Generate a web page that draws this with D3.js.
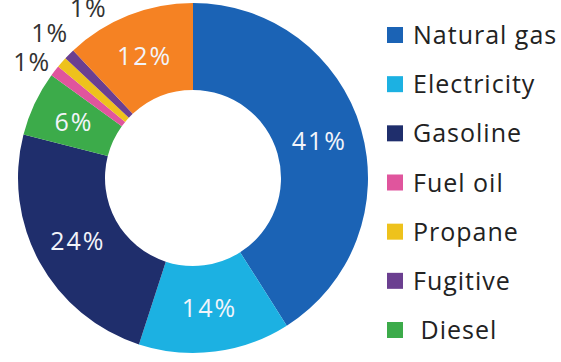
<!DOCTYPE html>
<html>
<head>
<meta charset="utf-8">
<script src="https://cdn.jsdelivr.net/npm/d3@7"></script>
<style>
  html, body { margin: 0; padding: 0; background: #fff; }
  svg { display: block; }
  text { font-family: "Open Sans", "DejaVu Sans", sans-serif; }
</style>
</head>
<body>
<svg id="chart" width="561" height="362"></svg>
<script>
// Emission sources, in the order they are laid out clockwise from 12 o'clock
const categories = ["Natural gas", "Electricity", "Gasoline", "Diesel", "Fuel oil", "Propane", "Fugitive", "Other"];
const shares = [41, 14, 24, 6, 1, 1, 1, 12];
const colors = ["#1b63b5", "#1cb1e2", "#1f2e6c", "#3cab4a", "#e0559d", "#eec21c", "#6b3f90", "#f58223"];
// Legend entries, top to bottom
const legendItems = ["Natural gas", "Electricity", "Gasoline", "Fuel oil", "Propane", "Fugitive", "Diesel"];
const legendText = ["Natural gas", "Electricity", "Gasoline", "Fuel oil", "Propane", "Fugitive", " Diesel"];

const svg = d3.select("#chart");
const cx = 193, cy = 178, rOuter = 175, rInner = 88;
const color = d3.scaleOrdinal().domain(categories).range(colors);

const data = categories.map((c, i) => ({ name: c, value: shares[i] }));
const pie = d3.pie().sort(null).value(d => d.value);
const arcs = pie(data);
const arc = d3.arc().innerRadius(rInner).outerRadius(rOuter);
const labelArc = d3.arc().innerRadius((rInner + rOuter) / 2).outerRadius((rInner + rOuter) / 2);

const g = svg.append("g").attr("transform", `translate(${cx},${cy})`);

g.selectAll("path.slice")
  .data(arcs)
  .join("path")
  .attr("class", "slice")
  .attr("d", arc)
  .attr("fill", d => color(d.data.name));

// Slices wide enough hold their own label
const fmt = v => v + "%";
g.selectAll("text.inner")
  .data(arcs.filter(d => d.data.value >= 5))
  .join("text")
  .attr("class", "inner")
  .attr("transform", d => `translate(${labelArc.centroid(d)})`)
  .attr("text-anchor", "middle")
  .attr("dy", "0.36em")
  .attr("font-size", 25)
  .attr("letter-spacing", 2)
  .attr("fill", "#f2f4fa")
  .text(d => fmt(d.data.value));

// Thin slices are labelled outside the ring, fanned out to avoid overlap
const outerArc = d3.arc().innerRadius(rOuter).outerRadius(rOuter);
const fanOffsets = [[-23, -9], [-12, -29], [19, -46]];
g.selectAll("text.outer")
  .data(arcs.filter(d => d.data.value < 5))
  .join("text")
  .attr("class", "outer")
  .attr("transform", (d, i) => {
    const [x, y] = outerArc.centroid(d);
    return `translate(${x + fanOffsets[i][0]},${y + fanOffsets[i][1]})`;
  })
  .attr("text-anchor", "middle")
  .attr("dy", "0.36em")
  .attr("font-size", 25)
  .attr("letter-spacing", 1)
  .attr("fill", "#333")
  .text(d => fmt(d.data.value));

// Legend
const legendY = d3.scalePoint().domain(legendItems).range([35, 330]);
const lg = svg.append("g");
const rows = lg.selectAll("g.row")
  .data(legendItems)
  .join("g")
  .attr("class", "row")
  .attr("transform", d => `translate(387,${legendY(d)})`);
rows.append("rect")
  .attr("x", 0).attr("y", -8)
  .attr("width", 16).attr("height", 16)
  .attr("fill", d => color(d));
rows.append("text")
  .attr("x", 26)
  .attr("dy", "0.36em")
  .attr("font-size", 25)
  .attr("letter-spacing", 1)
  .attr("fill", "#222")
  .style("white-space", "pre")
  .text((d, i) => legendText[i]);
</script>
</body>
</html>
